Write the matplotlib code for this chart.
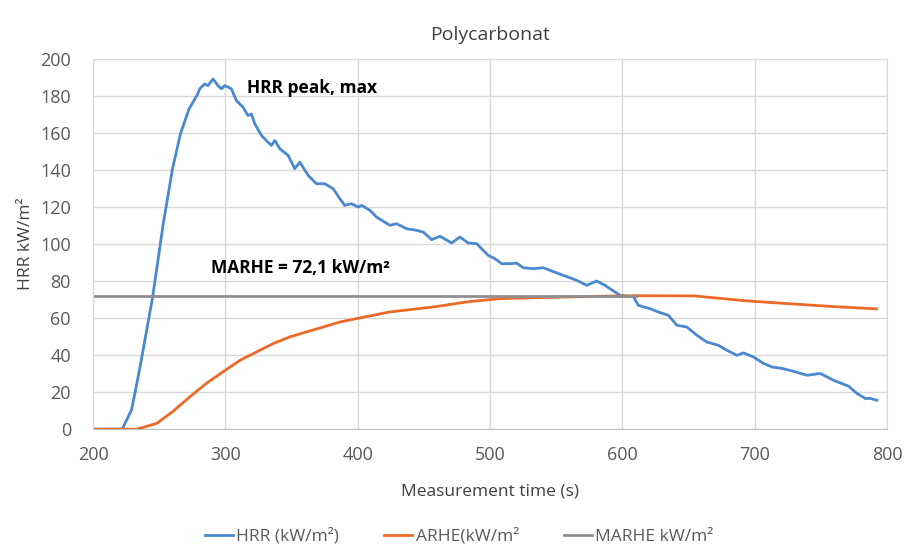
import matplotlib
matplotlib.use("Agg")
import matplotlib.pyplot as plt

plt.rcParams["font.family"] = ["Open Sans", "DejaVu Sans"]

# HRR curve (kW/m2)
hrr_t = [200, 222, 229, 235, 245, 253, 260, 266, 272.5, 279, 280.6, 284.3, 286.8, 290.6,
         294.4, 297, 299.5, 304.5, 308.3, 313.3, 317.1, 319.6, 322.2, 327.2, 332.2, 334.8,
         337.3, 341.1, 347.4, 352.4, 356.2, 362.5, 368.8, 375.1, 381.4, 386.5, 390.2, 395.3,
         400.3, 403.1, 409.2, 414.2, 424.3, 429.3, 436.9, 444.5, 449.5, 455.8, 462.1, 471,
         477.2, 483.5, 489.9, 493.6, 498.6, 503.7, 508.8, 515.1, 520.1, 525.1, 532.7, 540.2,
         545.3, 555.4, 565.5, 573.1, 580.6, 586.9, 598.3, 603.3, 608.3, 612.1, 621, 627.2,
         634.8, 641.2, 648.7, 656.3, 663.8, 672.6, 679, 686.5, 691.5, 699.1, 706.7, 713,
         720.6, 728.1, 739.5, 749.6, 759.6, 771, 777.3, 783.6, 787.4, 792.4]
hrr_v = [0, 0, 10.3, 31.8, 71.4, 111, 140.7, 159.6, 173, 181, 183.9, 186.5, 185.6, 189.2,
         185.6, 183.9, 185.6, 183.9, 177.5, 173.9, 169.4, 170.3, 165, 158.7, 155, 153.3,
         156, 151.5, 147.9, 140.7, 144.3, 137.1, 132.6, 132.6, 129.9, 124.5, 120.9, 121.8,
         120, 120.9, 118.2, 114.6, 110.1, 111, 108.3, 107.4, 106.5, 102.4, 104.2, 100.6,
         103.8, 100.6, 100.2, 97.5, 93.9, 92.1, 89.4, 89.4, 89.7, 87.2, 86.7, 87.2,
         85.8, 83.1, 80.4, 77.7, 80, 77.7, 72.3, 71.8, 71.6, 66.9, 65.1, 63.3,
         61.5, 56.1, 55.2, 50.7, 47.1, 45.3, 42.6, 39.9, 41.2, 39, 35.5, 33.6,
         32.8, 31.5, 29.1, 30.1, 26.4, 23.2, 19.3, 16.6, 16.6, 15.6]

# ARHE curve (kW/m2)
arhe_t = [200, 233, 248, 260, 273, 285.5, 298, 311, 323.5, 336, 348.5, 361, 374, 386.5,
          399, 411.5, 424, 447, 457, 482, 507, 532.5, 558, 583, 610, 654, 694, 734,
          765, 792]
arhe_v = [0, 0, 3.1, 9.4, 17.4, 24.7, 30.9, 37.2, 41.7, 46.2, 49.8, 52.5, 55.2, 57.9,
          59.7, 61.5, 63.3, 65.2, 66, 68.7, 70.5, 71, 71.4, 71.8, 72.1, 72.0, 69.3, 67.4,
          66.0, 65.0]

# MARHE level
marhe_t = [200, 610]
marhe_v = [72.1, 72.1]

blue = "#4a88cf"
orange = "#ec6a28"
gray = "#8f8f8f"
text_gray = "#595959"

fig = plt.figure(figsize=(9.13, 5.46), dpi=100)
ax = fig.add_axes([0.102, 0.214, 0.8695, 0.678])

ax.plot(hrr_t, hrr_v, color=blue, linewidth=2, label="HRR (kW/m²)")
ax.plot(arhe_t, arhe_v, color=orange, linewidth=2, label="ARHE(kW/m²")
ax.plot(marhe_t, marhe_v, color=gray, linewidth=2, label="MARHE kW/m²")

ax.set_xlim(200, 800)
ax.set_ylim(0, 200)
ax.set_xticks(range(200, 801, 100))
ax.set_yticks(range(0, 201, 20))
ax.grid(True, color="#d9d9d9", linewidth=1)
ax.set_axisbelow(True)
for side in ["top", "right", "left"]:
    ax.spines[side].set_color("#d9d9d9")
ax.spines["bottom"].set_color("#bfbfbf")
ax.tick_params(length=0, labelsize=13, labelcolor=text_gray)
ax.tick_params(axis="x", pad=12)
ax.tick_params(axis="y", pad=16)

ax.set_title("Polycarbonat", fontsize=14, color="#404040", pad=14)
ax.set_xlabel("Measurement time (s)", fontsize=12.5, color="#404040", labelpad=14)
ax.set_ylabel("HRR kW/m²", fontsize=12.5, color="#404040", labelpad=4)

ax.text(316, 184.5, "HRR peak, max", fontsize=12.5, fontweight="bold", va="center")
ax.text(289, 87, "MARHE = 72,1 kW/m²", fontsize=12.5, fontweight="bold", va="center")

leg = fig.legend(loc="center", bbox_to_anchor=(0.503, 0.017), ncol=3, frameon=False,
                 fontsize=12.5, handlelength=1.6, handletextpad=0.2, columnspacing=2.6)
for t in leg.get_texts():
    t.set_color(text_gray)

fig.savefig("out.png", dpi=100)
